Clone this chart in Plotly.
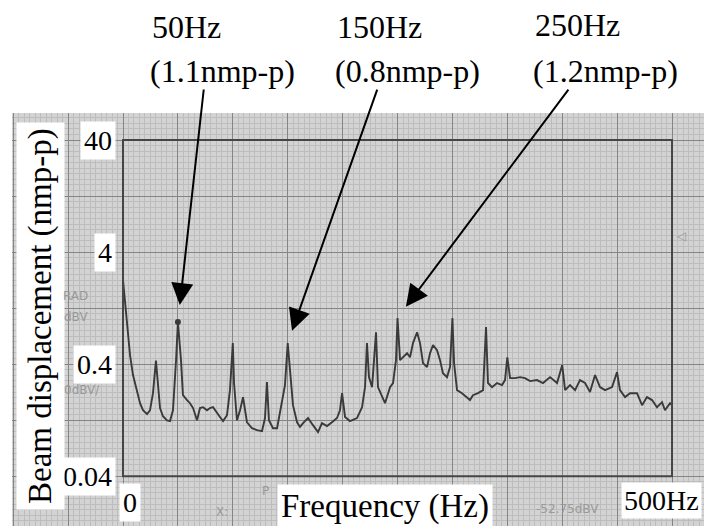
import numpy as np
import plotly.graph_objects as go

# ---------------- data ----------------
freq_hz = [0, 1.8, 4.6, 6.4, 9.1, 12.8, 15.5, 18.2, 21.9, 24.6, 27.3, 30.0, 31.9, 33.7, 36.4,
           40.1, 42.8, 45.5, 48.3, 50.0, 52.8, 54.6, 58.3, 61.0, 63.8, 67.4, 70.1, 72.9, 76.5,
           79.2, 82.0, 85.6, 88.3, 91.1, 94.7, 97.4, 100.0, 101.1, 103.8, 106.6, 109.3, 112.9,
           117.5, 122.0, 126.6, 129.3, 131.1, 132.9, 136.6, 140.3, 144.8, 147.5, 150.0, 153.0,
           154.8, 158.5, 161.2, 164.0, 168.5, 173.0, 177.6, 181.2, 185.8, 190.3, 194.9, 197.6,
           199.5, 202.2, 206.7, 213.1, 217.7, 220.4, 222.2, 224.0, 226.8, 228.6, 230.4, 232.2,
           235.9, 238.6, 243.2, 245.9, 248.6, 250.0, 252.3, 255.0, 258.7, 261.4, 264.1, 267.8,
           270.5, 273.2, 276.9, 279.6, 282.3, 286.0, 288.7, 291.4, 295.1, 297.8, 300.0, 301.5,
           304.2, 308.7, 313.3, 316.0, 318.7, 323.3, 327.9, 330.6, 332.4, 336.1, 340.6, 345.2,
           347.9, 350.0, 352.5, 357.0, 361.6, 366.1, 370.7, 377.0, 382.5, 388.9, 395.3, 400.0,
           402.6, 407.1, 411.7, 416.2, 420.8, 425.3, 429.9, 434.4, 439.0, 445.4, 449.9, 452.6,
           457.2, 461.7, 468.1, 472.7, 477.2, 481.8, 486.3, 490.9, 493.6, 498.2, 500.0]
displacement = [2.25, 1.49, 0.76, 0.48, 0.319, 0.220, 0.179, 0.155, 0.143, 0.155, 0.22, 0.43, 0.234,
                0.162, 0.137, 0.126, 0.124, 0.155, 0.434, 0.95, 0.434, 0.211, 0.191, 0.179, 0.162,
                0.126, 0.162, 0.165, 0.155, 0.162, 0.165, 0.149, 0.135, 0.124, 0.140, 0.234, 0.616,
                0.271, 0.126, 0.155, 0.203, 0.121, 0.107, 0.103, 0.101, 0.132, 0.276, 0.126, 0.107,
                0.107, 0.183, 0.260, 0.616, 0.260, 0.172, 0.121, 0.110, 0.119, 0.132, 0.114, 0.099,
                0.119, 0.112, 0.121, 0.132, 0.155, 0.220, 0.135, 0.124, 0.132, 0.165, 0.249, 0.616,
                0.306, 0.249, 0.434, 0.77, 0.249, 0.203, 0.179, 0.249, 0.271, 0.434, 1.03, 0.434,
                0.46, 0.50, 0.46, 0.616, 0.77, 0.616, 0.408, 0.376, 0.50, 0.59, 0.533, 0.434, 0.332,
                0.306, 0.376, 1.03, 0.408, 0.234, 0.220, 0.203, 0.191, 0.211, 0.220, 0.234, 0.855,
                0.271, 0.249, 0.271, 0.260, 0.288, 0.46, 0.30, 0.30, 0.306, 0.30, 0.282, 0.288,
                0.271, 0.306, 0.271, 0.392, 0.234, 0.260, 0.234, 0.288, 0.271, 0.225, 0.319, 0.249,
                0.234, 0.249, 0.339, 0.234, 0.203, 0.220, 0.220, 0.172, 0.203, 0.191, 0.165, 0.183,
                0.155, 0.179, 0.172]

y_tick_vals = [40, 4, 0.4, 0.04]
y_tick_text = ["40", "4", "0.4", "0.04"]
x_tick_vals = [0, 500]
x_tick_text = ["0", "500Hz"]

peak_freqs = [50, 150, 250]
peak_labels = ["50Hz", "150Hz", "250Hz"]
peak_amp_labels = ["(1.1nmp-p)", "(0.8nmp-p)", "(1.2nmp-p)"]

x_title = "Frequency (Hz)"
y_title = "Beam displacement (nmp-p)"

# ---------------- figure ----------------
# the html body adds an 8px margin, so the figure is drawn 8px in from the page corner
BODY = 8
PAGE_W, PAGE_H = 712, 526
W, H = PAGE_W - BODY, PAGE_H - BODY
ML, MR, MT, MB = 12 - BODY, 0, 113 - BODY, 0
PLOT_L, PLOT_T = 12, 113              # page pixels of the plot area corner
PW, PH = PAGE_W - PLOT_L, PAGE_H - PLOT_T

def px(xp):
    return (xp - PLOT_L) / PW

def py(yp):
    return (PAGE_H - yp) / PH

SERIF = "Liberation Serif, Times New Roman, serif"
TRACE = "#3a3a3a"

fig = go.Figure()
fig.add_trace(go.Scatter(x=freq_hz, y=displacement, mode="lines",
                         line=dict(color=TRACE, width=1.9), hoverinfo="skip",
                         showlegend=False))

lookup = dict(zip(freq_hz, displacement))
fig.add_trace(go.Scatter(x=[50], y=[lookup[50]], mode="markers",
                         marker=dict(color=TRACE, size=6), hoverinfo="skip",
                         showlegend=False))

# instrument frame
fig.add_shape(type="rect", xref="x", yref="y", x0=0, x1=500, y0=0.04, y1=40,
              line=dict(color="#454545", width=2), layer="above")

ann = []
# y tick labels
for v, t in zip(y_tick_vals, y_tick_text):
    ann.append(dict(xref="x", yref="y", x=0, y=np.log10(v), text=t, showarrow=False,
                    xanchor="right", yanchor="middle", xshift=-7,
                    bgcolor="white", borderpad=3,
                    font=dict(family=SERIF, size=28, color="black")))
# x tick labels
ann.append(dict(xref="x", yref="y", x=0, y=np.log10(0.04), text=x_tick_text[0],
                showarrow=False, xanchor="center", yanchor="top", xshift=7, yshift=-7,
                bgcolor="white", borderpad=3,
                font=dict(family=SERIF, size=28, color="black")))
ann.append(dict(xref="x", yref="y", x=500, y=np.log10(0.04), text=x_tick_text[1],
                showarrow=False, xanchor="center", yanchor="top", xshift=-11, yshift=-6,
                bgcolor="white", borderpad=2,
                font=dict(family=SERIF, size=28, color="black")))
# axis titles
ann.append(dict(xref="paper", yref="paper", x=px(385), y=py(506), text=x_title,
                showarrow=False, xanchor="center", yanchor="middle",
                bgcolor="white", borderpad=3,
                font=dict(family=SERIF, size=33, color="black")))
ann.append(dict(xref="paper", yref="paper", x=px(40), y=py(316), text=y_title,
                showarrow=False, xanchor="center", yanchor="middle", textangle=-90,
                bgcolor="white", borderpad=5,
                font=dict(family=SERIF, size=33, color="black")))

# peak labels and arrows
label_x = [150, 335, 533]
line1_y = [27, 27, 25]
line2_y = [71, 71, 71]
arrow_off = [(26, -234), (90, -255), (172, -230)]
stand = [17, 13, 14]
for i, f in enumerate(peak_freqs):
    ann.append(dict(xref="paper", yref="paper", x=px(label_x[i]), y=py(line1_y[i]),
                    text=peak_labels[i], showarrow=False, xanchor="left", yanchor="middle",
                    font=dict(family=SERIF, size=32, color="black")))
    ann.append(dict(xref="paper", yref="paper", x=px(label_x[i] - 2), y=py(line2_y[i]),
                    text=peak_amp_labels[i], showarrow=False, xanchor="left", yanchor="middle",
                    font=dict(family=SERIF, size=32, color="black")))
    ann.append(dict(xref="x", yref="y", x=f, y=np.log10(lookup[f]), text="",
                    showarrow=True, arrowhead=2, arrowsize=2.2, arrowwidth=2,
                    arrowcolor="black", ax=arrow_off[i][0], ay=arrow_off[i][1],
                    standoff=stand[i]))

# faint analyser screen text
faint = [("RAD", 75, 296), ("dBV", 76, 317), ("0dBV/", 82, 390), ("X:", 222, 512),
         ("P", 265, 491), ("-52.75dBV", 567, 509), ("◁", 681, 236)]
for t, xx, yy in faint:
    ann.append(dict(xref="paper", yref="paper", x=px(xx), y=py(yy), text=t,
                    showarrow=False, xanchor="center", yanchor="middle",
                    font=dict(family="DejaVu Sans", size=12, color="#999999")))

fig.update_layout(
    width=W, height=H, margin=dict(l=ML, r=MR, t=MT, b=MB, pad=0),
    paper_bgcolor="white", plot_bgcolor="#d3d3d3",
    showlegend=False, annotations=ann,
    xaxis=dict(range=[-101.1, 536.4], showticklabels=False, zeroline=False,
               showline=False, ticks="", tick0=0, dtick=50,
               showgrid=True, gridcolor="#858585", gridwidth=1,
               minor=dict(dtick=5, tick0=0, showgrid=True, gridcolor="#bdbdbd", gridwidth=1)),
    yaxis=dict(type="log", range=[-1.843, 1.843], showticklabels=False, zeroline=False,
               showline=False, ticks="", tick0=np.log10(0.04), dtick=0.5,
               showgrid=True, gridcolor="#858585", gridwidth=1,
               minor=dict(dtick=0.05, tick0=np.log10(0.04), showgrid=True,
                          gridcolor="#bdbdbd", gridwidth=1)),
)

fig.write_html("out.html")
